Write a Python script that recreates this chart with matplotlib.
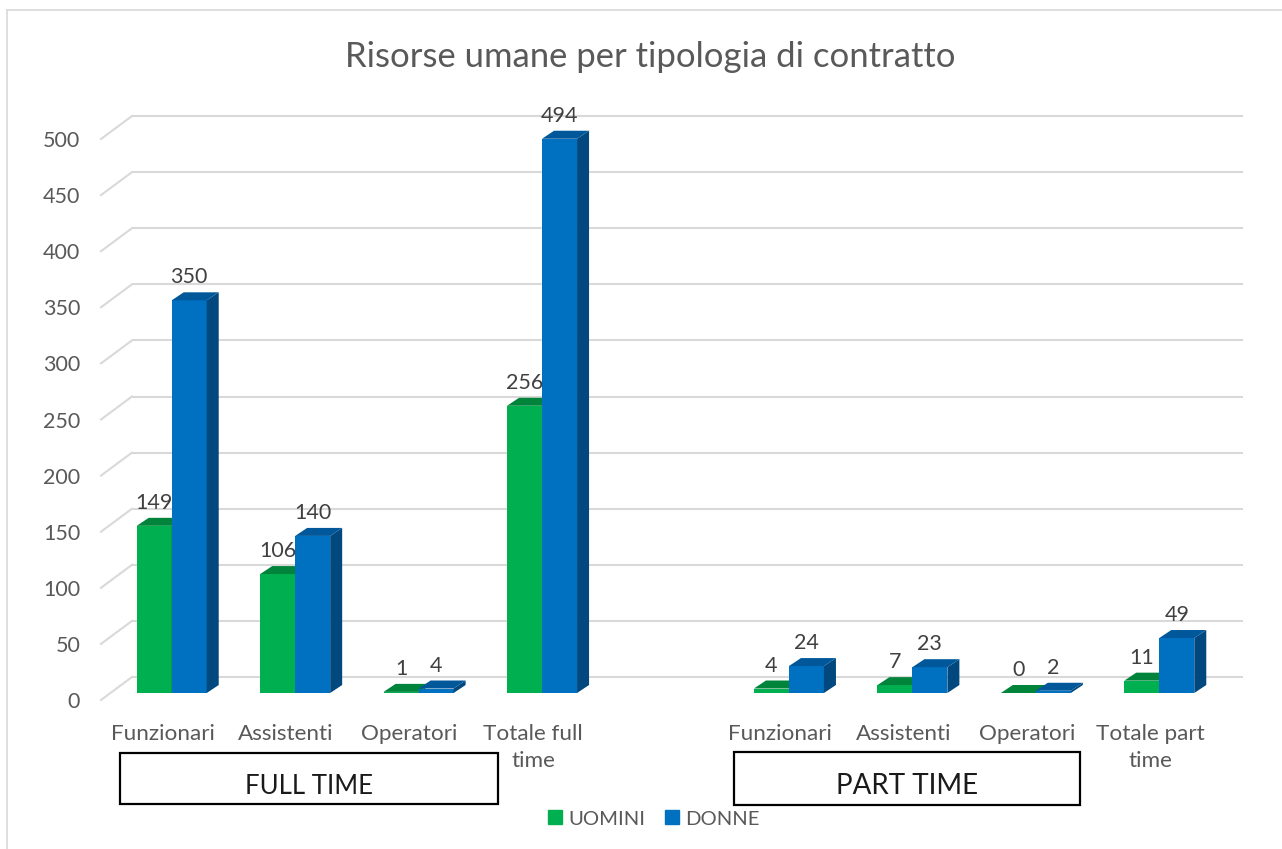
import matplotlib
matplotlib.use("Agg")
import matplotlib.pyplot as plt
from matplotlib.patches import Patch, Polygon, Rectangle
from matplotlib.transforms import IdentityTransform, offset_copy

plt.rcParams['font.family'] = ['Lato', 'DejaVu Sans']

W, H = 1282, 849

categorie = ["Funzionari", "Assistenti", "Operatori", "Totale full\ntime", "",
             "Funzionari", "Assistenti", "Operatori", "Totale part\ntime"]
uomini = [149, 106, 1, 256, None, 4, 7, 0, 11]
donne = [350, 140, 4, 494, None, 24, 23, 2, 49]
y_ticks = [0, 50, 100, 150, 200, 250, 300, 350, 400, 450, 500]

VERDE, VERDE_TOP, VERDE_LATO = "#00B050", "#00843C", "#006A30"
BLU, BLU_TOP, BLU_LATO = "#0070C0", "#00589B", "#00487E"
GRIGIO = "#D9D9D9"
TESTO = "#595959"
ETICHETTE = "#404040"

fig = plt.figure(figsize=(W / 100, H / 100), dpi=100, facecolor="white")


# pixel dell'immagine -> coordinate della figura
def fx(x):
    return x / W


def fy(y):
    return 1 - y / H


ax = fig.add_axes([fx(101), fy(700), (1212 - 101) / W, (700 - 139) / H])
ax.set_xlim(-0.5, 8.5)
ax.set_ylim(0, 500)
ax.patch.set_visible(False)
for s in ax.spines.values():
    s.set_visible(False)

ax.set_yticks(y_ticks)
ax.set_xticks(range(len(categorie)))
ax.set_xticklabels(categorie, linespacing=1.47)
ax.tick_params(axis="y", length=0, pad=15, labelsize=15.5, labelcolor=TESTO)
ax.tick_params(axis="x", length=0, pad=17, labelsize=16.2, labelcolor=TESTO)

# griglia sulla parete di fondo e sul fianco
PARETE = (31, 23)
trans_parete = offset_copy(ax.transData, fig=fig, x=PARETE[0], y=PARETE[1], units="dots")
ax.hlines(y_ticks, -0.5, 8.5, color=GRIGIO, lw=1.5, transform=trans_parete, clip_on=False, zorder=1)
for v in y_ticks:
    x0, y0 = ax.transData.transform((-0.5, v))
    ax.plot([x0, x0 + PARETE[0]], [y0, y0 + PARETE[1]], color=GRIGIO, lw=1.5,
            transform=IdentityTransform(), clip_on=False, zorder=1)

# barre 3D: la faccia frontale sta 7 px sopra il piano anteriore
trans_barre = offset_copy(ax.transData, fig=fig, x=9, y=7, units="dots")
larg = 0.2835
DX, DY = 12, 8


def barra(x, v, col, top, lato, z):
    ax.bar(x, v, larg, color=col, transform=trans_barre, clip_on=False, zorder=z)
    xa, ya = trans_barre.transform((x - larg / 2, 0))
    xb, yb = trans_barre.transform((x + larg / 2, v))
    ax.add_patch(Polygon([(xb, ya), (xb + DX, ya + DY), (xb + DX, yb + DY), (xb, yb)],
                         color=lato, lw=0, transform=IdentityTransform(), clip_on=False, zorder=z))
    ax.add_patch(Polygon([(xa, yb), (xa + DX, yb + DY), (xb + DX, yb + DY), (xb, yb)],
                         color=top, lw=0, transform=IdentityTransform(), clip_on=False, zorder=z))
    ax.text(x, v, str(v), transform=offset_copy(trans_barre, fig=fig, x=0, y=23, units="dots"),
            ha="center", va="center", fontsize=15.5, color=ETICHETTE, zorder=10, clip_on=False)


for i in range(len(categorie)):
    if uomini[i] is None:
        continue
    barra(i - larg / 2, uomini[i], VERDE, VERDE_TOP, VERDE_LATO, 3 + i)
    barra(i + larg / 2, donne[i], BLU, BLU_TOP, BLU_LATO, 3.5 + i)

fig.text(fx(650), fy(57), "Risorse umane per tipologia di contratto", ha="center", va="center",
         fontsize=24.9, color=TESTO)

# cornice del grafico
fig.add_artist(plt.Line2D([fx(7), fx(7)], [fy(10), 0], color=GRIGIO, lw=1.2))
fig.add_artist(plt.Line2D([fx(7), 1], [fy(10), fy(10)], color=GRIGIO, lw=1.2))

# riquadri FULL TIME / PART TIME
for x0, y0, x1, y1, txt, fs in [(120, 753, 498, 804, "FULL TIME", 18.5),
                                (734, 752, 1080, 805, "PART TIME", 20)]:
    fig.add_artist(Rectangle((fx(x0), fy(y1)), (x1 - x0) / W, (y1 - y0) / H, fc="white",
                             ec="black", lw=1.6, transform=fig.transFigure, zorder=5))
    fig.text(fx((x0 + x1) / 2), fy(786), txt, ha="center", va="center", fontsize=fs,
             color="#1a1a1a", zorder=6)

fig.legend(handles=[Patch(color=VERDE, label="UOMINI"), Patch(color=BLU, label="DONNE")],
           loc="center", bbox_to_anchor=(fx(654), fy(819)), ncol=2, frameon=False,
           fontsize=14.6, labelcolor=TESTO, handlelength=0.68, handleheight=0.68,
           handletextpad=0.3, columnspacing=1.0, borderpad=0)

fig.savefig("out.png", dpi=100)
